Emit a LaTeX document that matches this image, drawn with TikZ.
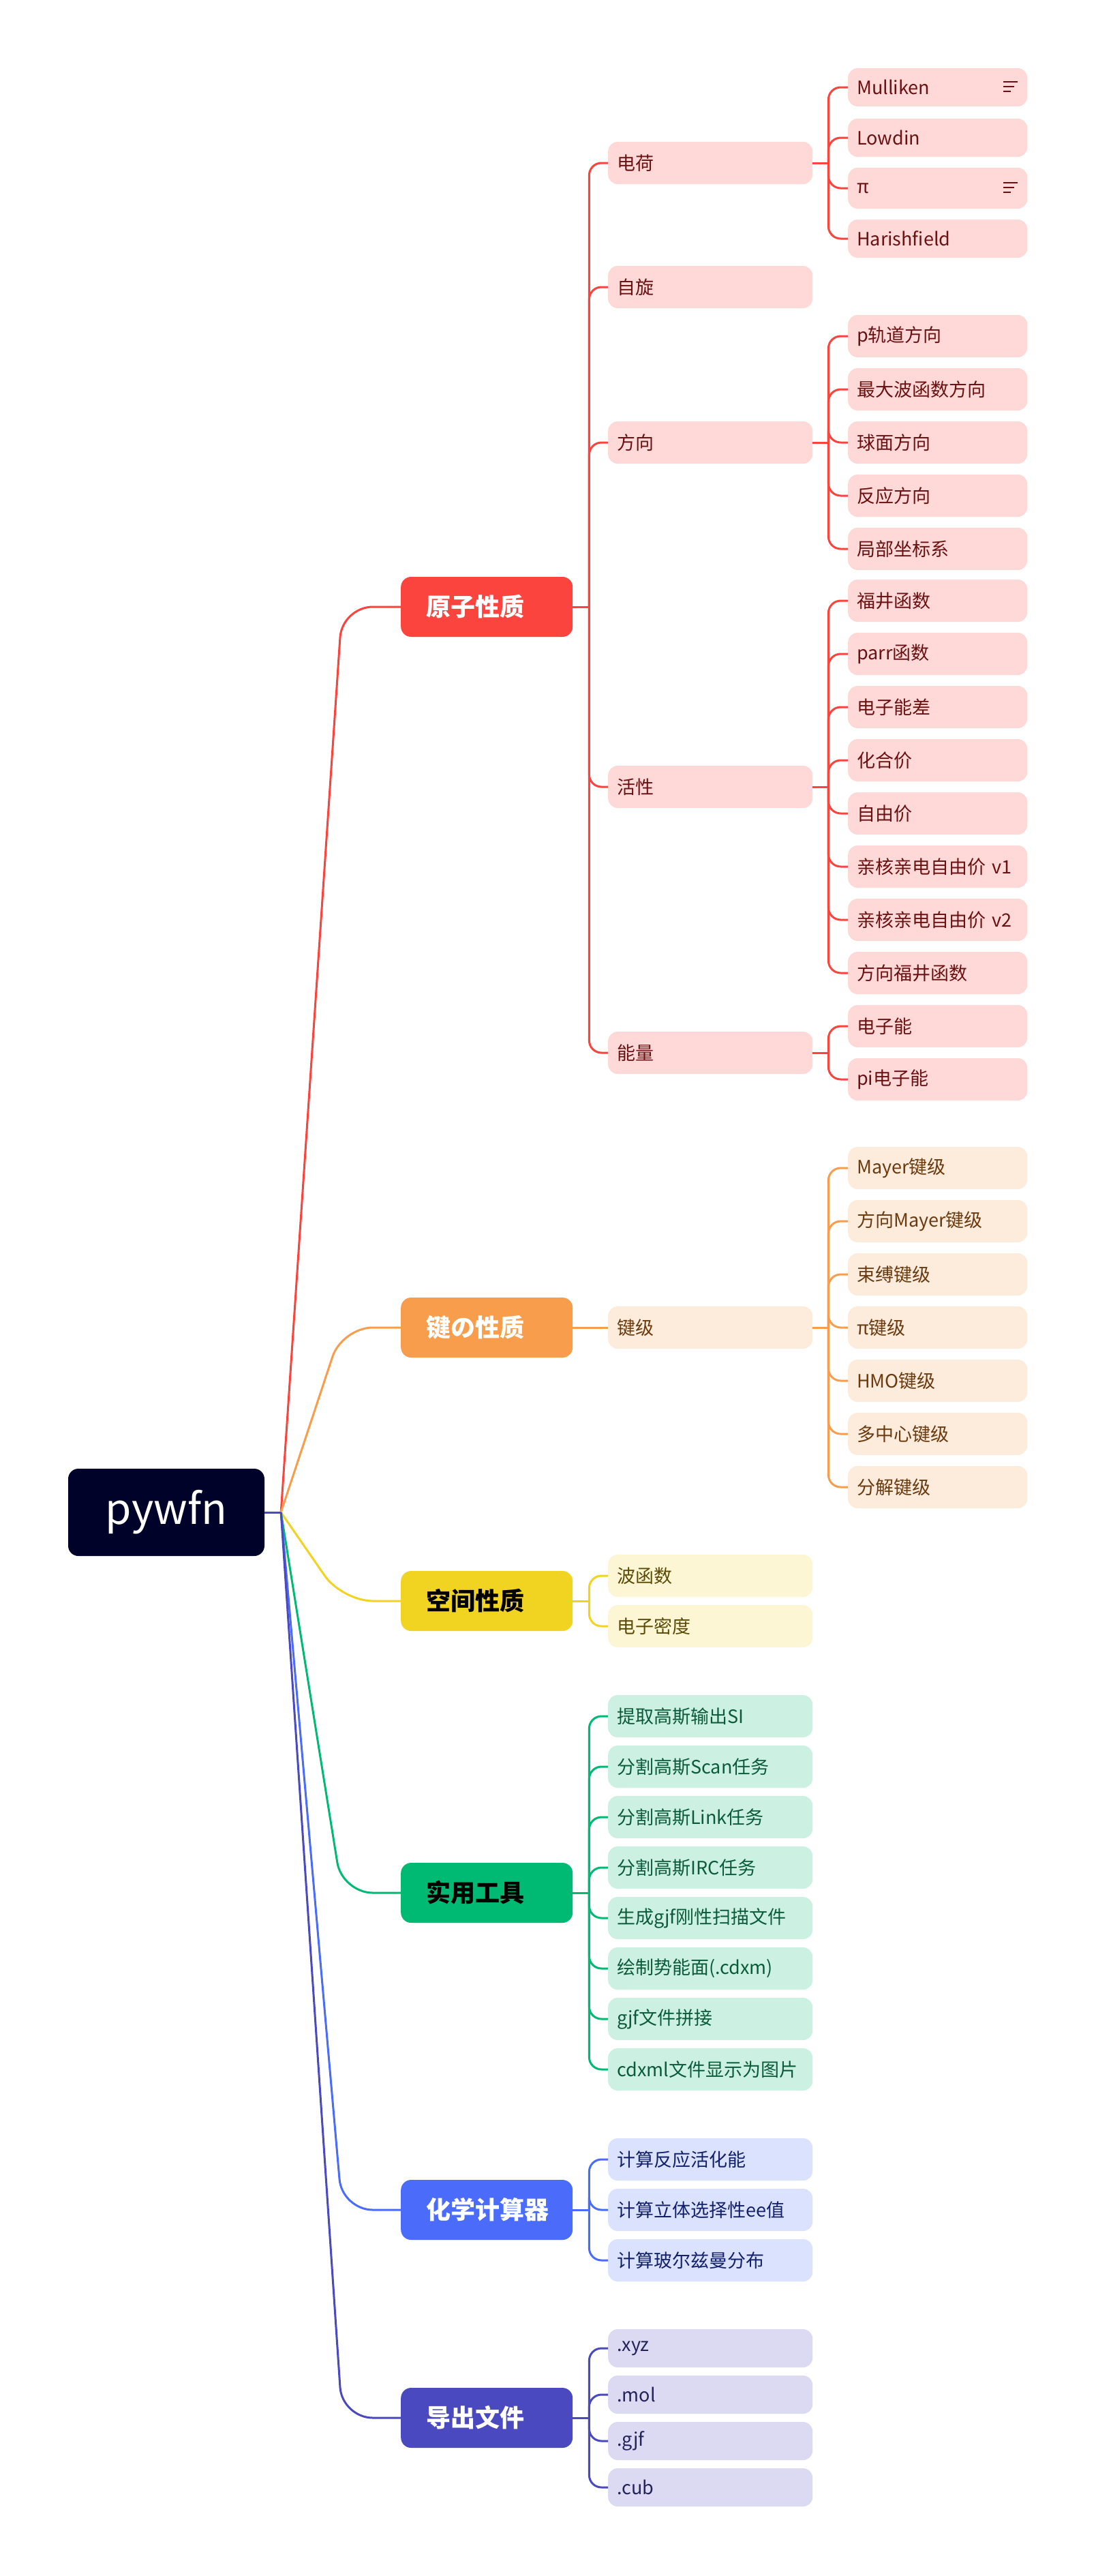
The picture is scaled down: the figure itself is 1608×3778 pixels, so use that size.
\documentclass[tikz,border=0pt]{standalone}
\usepackage{fontspec}
\setmainfont{Noto Sans CJK SC}
\usetikzlibrary{calc}

\definecolor{rootc}{HTML}{000229}
\definecolor{redA}{HTML}{FA443D}\definecolor{redB}{HTML}{FED9D8}\definecolor{redT}{HTML}{6B1111}
\definecolor{oraA}{HTML}{F79D4C}\definecolor{oraB}{HTML}{FDEBDC}\definecolor{oraT}{HTML}{6B3B10}
\definecolor{yelA}{HTML}{F1D322}\definecolor{yelB}{HTML}{FCF6D4}\definecolor{yelT}{HTML}{5C4B06}
\definecolor{grnA}{HTML}{00BA74}\definecolor{grnB}{HTML}{CCF1E3}\definecolor{grnT}{HTML}{0B5B3B}
\definecolor{bluA}{HTML}{4B6CFB}\definecolor{bluB}{HTML}{DBE2FE}\definecolor{bluT}{HTML}{13206B}
\definecolor{indA}{HTML}{4B49BF}\definecolor{indB}{HTML}{DBDAF2}\definecolor{indT}{HTML}{24225A}

\tikzset{
  topic/.style={anchor=west, rounded corners=15pt, minimum height=88pt, inner xsep=37pt,
    text width=178pt, align=left, font=\fontsize{36}{40}\selectfont\bfseries},
  sub/.style={anchor=west, rounded corners=14pt, minimum height=62pt, inner xsep=13pt,
    text width=274pt, align=left, font=\fontsize{27}{32}\selectfont},
  leaf/.style={sub, text width=237pt},
  latin/.style={minimum height=56pt},
  link/.style={line width=3pt, rounded corners=45pt},
  twig/.style={line width=3pt, rounded corners=18pt},
}

\begin{document}
\begin{tikzpicture}[x=1pt, y=-1pt]
\fill[white] (0,0) rectangle (1608,3778);
\useasboundingbox (0,0) rectangle (1608,3778);

% root
\node[fill=rootc, text=white, rounded corners=15pt, minimum width=288pt, minimum height=128pt,
  font=\fontsize{62}{70}\selectfont] (root) at (244,2218) {pywfn};
\coordinate (hub) at ($(root.east)+(24,0)$);

% main topics
\node[topic, fill=redA, text=white] (atom) at (588,890) {原子性质};
\node[topic, fill=oraA, text=white] (bond) at (588,1947) {键の性质};
\node[topic, fill=yelA, text=black] (space) at (588,2348) {空间性质};
\node[topic, fill=grnA, text=black] (tool) at (588,2776) {实用工具};
\node[topic, fill=bluA, text=white] (calc) at (588,3241) {化学计算器};
\node[topic, fill=indA, text=white] (export) at (588,3546) {导出文件};

\foreach \t/\c in {atom/redA, bond/oraA, space/yelA, tool/grnA, calc/bluA, export/indA}
  \draw[link, \c] (hub) -- ($(\t.west)+(-86,0)$) -- (\t.west);
\draw[line width=3pt, indA] (root.east) -- (hub);

% atom properties
\foreach \n/\t/\y in {charge/电荷/239, spin/自旋/421, orient/方向/649, active/活性/1154, energy/能量/1544}
  \node[sub, fill=redB, text=redT] (\n) at (892,\y) {\t};
\draw[line width=3pt, redA] (atom.east) -- ++(24,0);
\foreach \n in {charge, spin, orient, active, energy}
  \draw[twig, redA] ($(atom.east)+(24,0)$) |- (\n.west);

\node[leaf, latin, fill=redB, text=redT] (mull) at (1244,128) {Mulliken};
\node[leaf, latin, fill=redB, text=redT] (lowd) at (1244,202) {Lowdin};
\node[leaf, minimum height=60pt, fill=redB, text=redT] (pich) at (1244,276) {π};
\node[leaf, latin, fill=redB, text=redT] (hari) at (1244,350) {Harishfield};
\foreach \n in {mull, pich}
  \draw[line width=1.6pt, redT] ($(\n.east)+(-35,-8)$) -- ++(21,0)
    ($(\n.east)+(-35,-1)$) -- ++(16,0) ($(\n.east)+(-35,6)$) -- ++(11,0);
\draw[line width=3pt, redA] (charge.east) -- ++(23,0);
\foreach \n in {mull, lowd, pich, hari}
  \draw[twig, redA] ($(charge.east)+(23,0)$) |- (\n.west);

\foreach \n/\t/\y in {ori1/p轨道方向/493, ori2/最大波函数方向/571, ori3/球面方向/649, ori4/反应方向/727, ori5/局部坐标系/805}
  \node[leaf, fill=redB, text=redT] (\n) at (1244,\y) {\t};
\draw[line width=3pt, redA] (orient.east) -- ++(23,0);
\foreach \n in {ori1, ori2, ori3, ori4, ori5}
  \draw[twig, redA] ($(orient.east)+(23,0)$) |- (\n.west);

\foreach \n/\t/\y in {act1/福井函数/881, act2/parr函数/959, act3/电子能差/1037, act4/化合价/1115,
    act5/自由价/1193, act6/亲核亲电自由价 v1/1271, act7/亲核亲电自由价 v2/1349, act8/方向福井函数/1427}
  \node[leaf, fill=redB, text=redT] (\n) at (1244,\y) {\t};
\draw[line width=3pt, redA] (active.east) -- ++(23,0);
\foreach \n in {act1, act2, act3, act4, act5, act6, act7, act8}
  \draw[twig, redA] ($(active.east)+(23,0)$) |- (\n.west);

\foreach \n/\t/\y in {ene1/电子能/1505, ene2/pi电子能/1583}
  \node[leaf, fill=redB, text=redT] (\n) at (1244,\y) {\t};
\draw[line width=3pt, redA] (energy.east) -- ++(23,0);
\foreach \n in {ene1, ene2}
  \draw[twig, redA] ($(energy.east)+(23,0)$) |- (\n.west);

% bond properties
\node[sub, fill=oraB, text=oraT] (order) at (892,1947) {键级};
\draw[line width=3pt, oraA] (bond.east) -- (order.west);
\foreach \n/\t/\y in {bo1/Mayer键级/1713, bo2/方向Mayer键级/1791, bo3/束缚键级/1869, bo4/π键级/1947,
    bo5/HMO键级/2025, bo6/多中心键级/2103, bo7/分解键级/2181}
  \node[leaf, fill=oraB, text=oraT] (\n) at (1244,\y) {\t};
\draw[line width=3pt, oraA] (order.east) -- ++(23,0);
\foreach \n in {bo1, bo2, bo3, bo4, bo5, bo6, bo7}
  \draw[twig, oraA] ($(order.east)+(23,0)$) |- (\n.west);

% space properties
\foreach \n/\t/\y in {wave/波函数/2311, dens/电子密度/2385}
  \node[sub, fill=yelB, text=yelT] (\n) at (892,\y) {\t};
\draw[line width=3pt, yelA] (space.east) -- ++(24,0);
\foreach \n in {wave, dens}
  \draw[twig, yelA] ($(space.east)+(24,0)$) |- (\n.west);

% tools
\foreach \n/\t/\y in {to1/提取高斯输出SI/2517, to2/分割高斯Scan任务/2591, to3/分割高斯Link任务/2665,
    to4/分割高斯IRC任务/2739, to5/生成gjf刚性扫描文件/2813, to6/绘制势能面(.cdxm)/2887,
    to7/gjf文件拼接/2961, to8/cdxml文件显示为图片/3035}
  \node[sub, fill=grnB, text=grnT] (\n) at (892,\y) {\t};
\draw[line width=3pt, grnA] (tool.east) -- ++(24,0);
\foreach \n in {to1, to2, to3, to4, to5, to6, to7, to8}
  \draw[twig, grnA] ($(tool.east)+(24,0)$) |- (\n.west);

% calculators
\foreach \n/\t/\y in {ca1/计算反应活化能/3167, ca2/计算立体选择性ee值/3241, ca3/计算玻尔兹曼分布/3315}
  \node[sub, fill=bluB, text=bluT] (\n) at (892,\y) {\t};
\draw[line width=3pt, bluA] (calc.east) -- ++(24,0);
\foreach \n in {ca1, ca2, ca3}
  \draw[twig, bluA] ($(calc.east)+(24,0)$) |- (\n.west);

% export
\foreach \n/\t/\y in {ex1/.xyz/3444, ex2/.mol/3512, ex3/.gjf/3580, ex4/.cub/3648}
  \node[sub, latin, fill=indB, text=indT] (\n) at (892,\y) {\t};
\draw[line width=3pt, indA] (export.east) -- ++(24,0);
\foreach \n in {ex1, ex2, ex3, ex4}
  \draw[twig, indA] ($(export.east)+(24,0)$) |- (\n.west);
\end{tikzpicture}
\end{document}
